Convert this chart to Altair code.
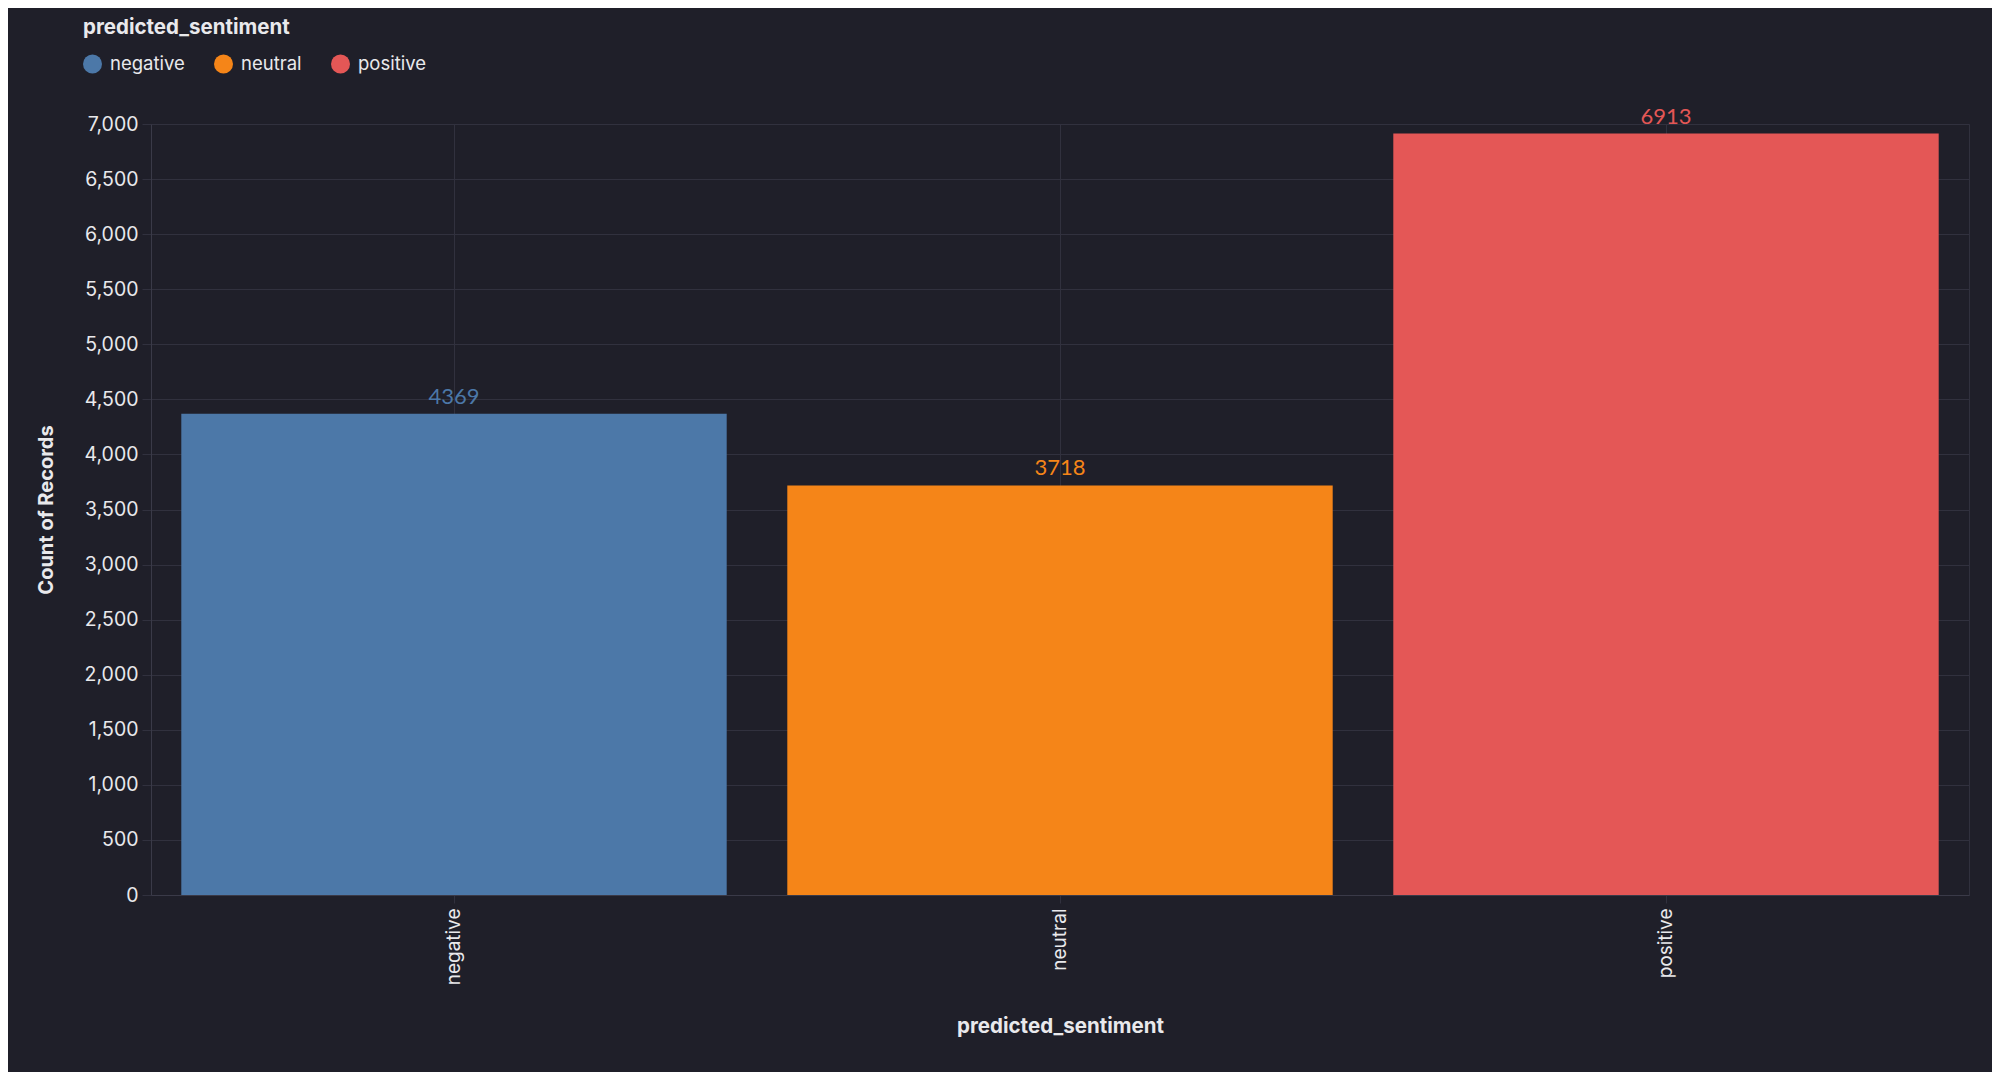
import altair as alt
import pandas as pd

categories = ["negative", "neutral", "positive"]
counts = [4369, 3718, 6913]
colors = ["#4c78a8", "#f58518", "#e45756"]

df = pd.DataFrame({"predicted_sentiment": categories, "count": counts})

BG = "#1f1f29"
GRID = "#31313e"
FONT = "Inter"
TXT = "#e9e9ec"

base = alt.Chart(df).encode(
    x=alt.X(
        "predicted_sentiment:N",
        title="predicted_sentiment",
        scale=alt.Scale(paddingInner=0.1, paddingOuter=0.05),
        axis=alt.Axis(labelAngle=270, labelFontSize=19, labelColor=TXT, labelFont=FONT,
                      tickSize=8, tickColor=GRID, labelPadding=5, domainColor="#3a3a48",
                      titleFontSize=20.5, titleFont=FONT, titleFontWeight="bold", titleColor=TXT,
                      titlePadding=32, gridColor=GRID, grid=True),
    ),
    y=alt.Y(
        "count:Q",
        title="Count of Records",
        scale=alt.Scale(domain=[0, 7000]),
        axis=alt.Axis(tickCount=14, labelFontSize=19.5, labelColor=TXT, labelFont=FONT,
                      tickSize=9, tickColor=GRID, labelPadding=4, domainColor="#3a3a48",
                      titleFontSize=20, titleFont=FONT, titleFontWeight="bold", titleColor=TXT,
                      titlePadding=28, gridColor=GRID, format=",d"),
    ),
    color=alt.Color(
        "predicted_sentiment:N",
        scale=alt.Scale(domain=categories, range=colors),
        legend=alt.Legend(orient="none", legendX=-68, legendY=-106, direction="horizontal",
                          title="predicted_sentiment", titleFontSize=20.5, titleFont=FONT,
                          titleFontWeight="bold", titleColor=TXT, titlePadding=16,
                          titleLimit=400, labelLimit=300,
                          labelFontSize=18.5, labelFont=FONT, labelColor=TXT, labelOffset=8,
                          symbolType="circle", symbolSize=361, symbolStrokeWidth=0,
                          symbolOpacity=1, columnPadding=29),
    ),
    tooltip=[alt.Tooltip("predicted_sentiment:N")],
)

bars = base.mark_bar()
labels = base.mark_text(baseline="bottom", dy=-5, font="Lato", fontSize=22).encode(
    text=alt.Text("count:Q", format="d")
)

chart = (
    alt.layer(bars, labels)
    .properties(width=1818, height=771, background=BG,
                autosize=alt.AutoSizeParams(type="none"),
                padding={"left": 143, "top": 116, "right": 23, "bottom": 177})
    .configure_view(stroke=GRID, strokeWidth=1)
)

chart.save("out.html", embed_options={"renderer": "svg", "actions": False})
